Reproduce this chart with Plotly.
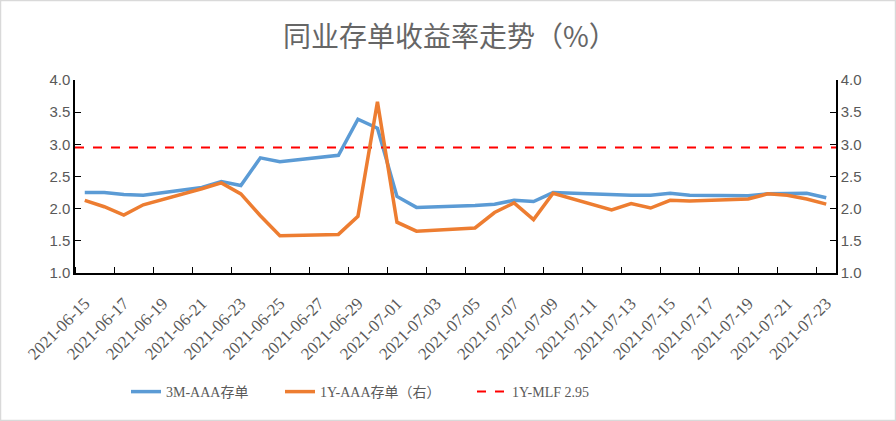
import pandas as pd
import plotly.graph_objects as go

dates = ["2021-06-15", "2021-06-16", "2021-06-17", "2021-06-18", "2021-06-21", "2021-06-22",
         "2021-06-23", "2021-06-24", "2021-06-25", "2021-06-28", "2021-06-29", "2021-06-30",
         "2021-07-01", "2021-07-02", "2021-07-05", "2021-07-06", "2021-07-07", "2021-07-08",
         "2021-07-09", "2021-07-12", "2021-07-13", "2021-07-14", "2021-07-15", "2021-07-16",
         "2021-07-19", "2021-07-20", "2021-07-21", "2021-07-22", "2021-07-23"]
cd_3m = [2.25, 2.25, 2.22, 2.21, 2.33, 2.42, 2.36, 2.79, 2.73, 2.83, 3.39, 3.25,
         2.19, 2.02, 2.05, 2.07, 2.13, 2.11, 2.25, 2.21, 2.21, 2.21, 2.24, 2.21,
         2.20, 2.23, 2.24, 2.24, 2.17]
cd_1y = [2.13, 2.03, 1.90, 2.06, 2.31, 2.40, 2.23, 1.89, 1.58, 1.60, 1.88, 3.66,
         1.79, 1.65, 1.70, 1.94, 2.09, 1.83, 2.24, 1.98, 2.08, 2.01, 2.13, 2.12,
         2.15, 2.23, 2.21, 2.15, 2.07]
mlf = 2.95
tick_labels = ["2021-06-15", "2021-06-17", "2021-06-19", "2021-06-21", "2021-06-23", "2021-06-25",
               "2021-06-27", "2021-06-29", "2021-07-01", "2021-07-03", "2021-07-05", "2021-07-07",
               "2021-07-09", "2021-07-11", "2021-07-13", "2021-07-15", "2021-07-17", "2021-07-19",
               "2021-07-21", "2021-07-23"]
y_ticks = [1.0, 1.5, 2.0, 2.5, 3.0, 3.5, 4.0]
title = "同业存单收益率走势（%）"
names = ["3M-AAA存单", "1Y-AAA存单（右）", "1Y-MLF 2.95"]

half = pd.Timedelta(hours=12)
x = pd.to_datetime(dates) + half
tv = pd.to_datetime(tick_labels) + half
x0 = pd.Timestamp("2021-06-15")
x1 = pd.Timestamp("2021-07-24")

SERIF = "Liberation Serif, Noto Sans CJK SC, serif"
GRAY = "#595959"

fig = go.Figure()
fig.add_trace(go.Scatter(x=x, y=cd_3m, mode="lines", name=names[0], showlegend=True,
                         line=dict(color="#5B9BD5", width=3.5), legend="legend"))
fig.add_trace(go.Scatter(x=x, y=cd_1y, mode="lines", name=names[1], yaxis="y2", showlegend=True,
                         line=dict(color="#ED7D31", width=3.5), legend="legend2"))
fig.add_trace(go.Scatter(x=[x0, x1], y=[mlf, mlf], mode="lines", name=names[2], showlegend=True,
                         line=dict(color="#FF0000", width=2, dash="dash"), legend="legend3"))

W, H = 896, 421
L, R, T, B = 75, 60, 80, 148
pw, ph = W - L - R, H - T - B

def px(xp):
    return (xp - L) / pw

def py(yp):
    return (H - B - yp) / ph

leg_common = dict(orientation="h", yanchor="middle", xanchor="left",
                  font=dict(family=SERIF, size=14, color=GRAY), bgcolor="rgba(0,0,0,0)")

axis_common = dict(range=[1, 4], tickvals=y_ticks, ticktext=[f"{v:.1f}" for v in y_ticks],
                   showgrid=False, zeroline=False, showline=True, linecolor="black", linewidth=1.5,
                   ticks="inside", ticklen=6, tickcolor="black",
                   tickfont=dict(family="Liberation Sans, sans-serif", size=15, color=GRAY))

fig.update_layout(
    width=W, height=H,
    margin=dict(l=L, r=R, t=T, b=B),
    paper_bgcolor="white", plot_bgcolor="white",
    showlegend=True,
    title=dict(text=title, x=283 / W, xanchor="left", y=1 - 37 / H, yanchor="middle",
               font=dict(family="Noto Sans CJK SC, sans-serif", size=28, color="#666666")),
    xaxis=dict(type="date", range=[x0, x1], tickvals=tv, ticktext=tick_labels, tickangle=-45,
               ticks="", showgrid=False, zeroline=False, showline=True, linecolor="black",
               linewidth=1.5, mirror=False, ticklabelstandoff=12,
               tickfont=dict(family="Liberation Serif, serif", size=17, color=GRAY),
               minor=dict(ticks="inside", ticklen=6, tickcolor="black",
                          tick0="2021-06-15", dtick=2 * 86400000, showgrid=False)),
    yaxis=dict(**axis_common, side="left"),
    yaxis2=dict(**axis_common, side="right", overlaying="y", anchor="x"),
    legend=dict(**leg_common, x=px(126), y=py(392)),
    legend2=dict(**leg_common, x=px(280), y=py(392)),
    legend3=dict(**leg_common, x=px(472), y=py(392)),
    shapes=[dict(type="rect", xref="paper", yref="paper",
                 x0=px(0.5), x1=px(W - 0.5), y0=py(H - 0.5), y1=py(0.5),
                 line=dict(color="#D9D9D9", width=1.5), fillcolor="rgba(0,0,0,0)", layer="below")],
)

fig.write_html("out.html")
